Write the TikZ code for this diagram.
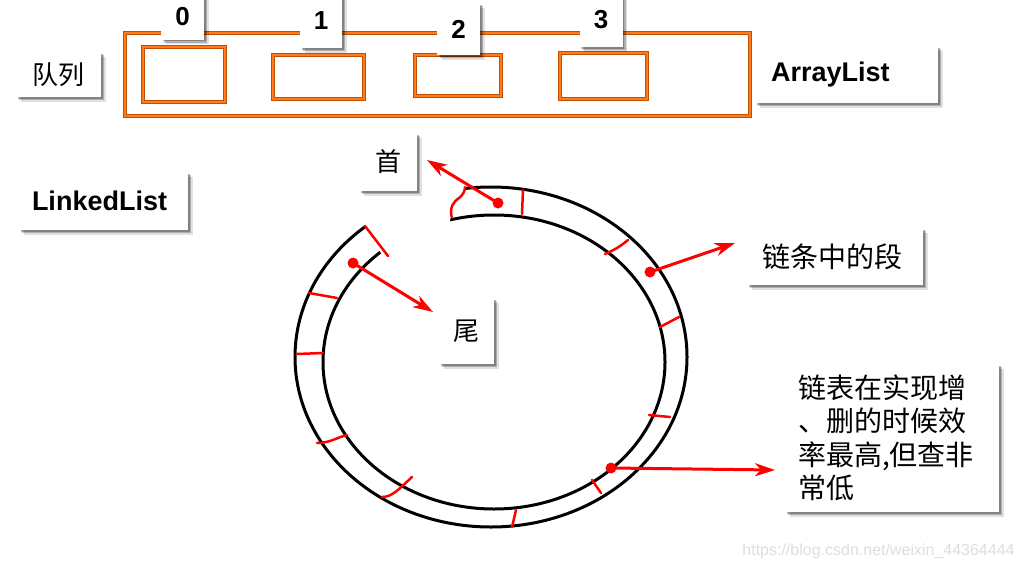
\documentclass[tikz,border=0pt]{standalone}
\usepackage{fontspec}
\setmainfont{Liberation Sans}
\newfontfamily\cjk{Noto Sans CJK SC}
\usetikzlibrary{shadows,arrows.meta}
\definecolor{odark}{HTML}{C24E00}
\definecolor{olight}{HTML}{FF7A1A}
\definecolor{rred}{HTML}{FF0000}
\begin{document}
\begin{tikzpicture}[x=1pt,y=-1pt,
 wbox/.style={draw=none,fill=white,
   drop shadow={shadow xshift=4.5pt,shadow yshift=-4.5pt,fill=black,opacity=0.12},
   drop shadow={shadow xshift=3pt,shadow yshift=-3pt,fill=black,opacity=0.22},
   drop shadow={shadow xshift=1.5pt,shadow yshift=-1.5pt,fill=black,opacity=0.25},
   inner sep=0pt},
 orect/.style={draw=odark,double=olight,double distance=1.4pt,line width=0.9pt},
 ring/.style={line width=3pt,draw=black},
 tick/.style={draw=rred,line width=2.5pt,line cap=round},
 rarrow/.style={draw=rred,line width=3pt,-{Stealth[length=20pt,width=13pt,inset=6pt]}},
 rdot/.style={circle,fill=rred,inner sep=0pt,minimum size=11pt},
 latin/.style={font=\fontsize{27}{32}\selectfont\bfseries},
 digit/.style={font=\fontsize{26}{30}\selectfont\bfseries},
 zh/.style={font=\cjk\fontsize{26}{30}\selectfont},
 zhb/.style={font=\cjk\fontsize{28}{33.5}\selectfont}]
\useasboundingbox (0,0) rectangle (1024,570);
\fill[white] (0,0) rectangle (1024,570);

% ArrayList array
\draw[orect] (125,33) rectangle (750,116);
\draw[orect] (143,47) rectangle (225,102);
\draw[orect] (273,55) rectangle (364,99);
\draw[orect] (415,55) rectangle (501,96);
\draw[orect] (560,53) rectangle (647,99);

\node[wbox,digit,minimum width=43pt,minimum height=46pt] (l0) at (182.5,16.5) {0};
\node[wbox,digit,minimum width=42pt,minimum height=54pt] (l1) at (321,21) {1};
\node[wbox,digit,minimum width=43pt,minimum height=52pt] (l2) at (458.5,29) {2};
\node[wbox,digit,minimum width=43pt,minimum height=54pt] (l3) at (601,20) {3};

\node[wbox,zh,minimum width=85pt,minimum height=45pt] (queue) at (58.5,74.5) {队列};
\node[wbox,latin,text width=151pt,align=left,inner xsep=16pt,minimum height=57pt] (alist) at (846.5,74.5) {ArrayList};
\node[wbox,latin,text width=143pt,align=left,inner xsep=13pt,minimum height=58pt] (llist) at (103.5,201) {LinkedList};

% rings
\draw[ring] (491,357) ellipse [x radius=196,y radius=170];
\draw[ring] (494,362) ellipse [x radius=171,y radius=147];

% gap in the ring
\fill[white] (362,222) -- (380,211) -- (400,201) -- (420,193) -- (440,188) -- (463,182)
  -- (466,186) -- (462,195) -- (455,200) -- (451,206) -- (450,224) -- (420,233)
  -- (400,243) -- (384,258) -- cycle;
\draw[tick] (365,226) -- (388,256);
\draw[tick] (451.7,217) .. controls (449,208) and (454,201) .. (459,198) .. controls (463,195) and (465,191) .. (465,187);

% segment ticks
\draw[tick] (523,190) -- (522,214);
\draw[tick] (605,254) to[bend right=8] (628,240);
\draw[tick] (660,327) -- (679,317);
\draw[tick] (649,415) -- (670,417);
\draw[tick] (592,480) -- (601,493);
\draw[tick] (516,510) -- (512,527);
\draw[tick] (382,497) .. controls (392,497) and (398,490) .. (412,477);
\draw[tick] (317,443) .. controls (330,443) and (338,437) .. (347,435);
\draw[tick] (297,354) -- (323,353);
\draw[tick] (309,293) -- (337,298);

% labels around ring
\node[wbox,zh,minimum width=58pt,minimum height=58pt] (shou) at (388,162) {首};
\node[wbox,zh,minimum width=55pt,minimum height=66pt] (wei) at (466.5,331) {尾};
\node[wbox,zhb,text width=146pt,align=left,inner xsep=15pt,minimum height=57pt] (seg) at (835,256.5) {链条中的段};
\node[wbox,zhb,text width=188pt,align=left,inner xsep=13pt,minimum height=148pt] (note) at (892,438) {链表在实现增\\、删的时候效\\率最高,但查非\\常低};

% arrows
\node[rdot] (hdot) at (498,203) {};
\coordinate (htip) at (427,160);
\draw[rarrow] (hdot.center) -- (htip);
\node[rdot] (tdot) at (353,263) {};
\coordinate (ttip) at (433,312);
\draw[rarrow] (tdot.center) -- (ttip);
\node[rdot] (sdot) at (650,272) {};
\coordinate (stip) at (735,243);
\draw[rarrow] (sdot.center) -- (stip);
\node[rdot] (ndot) at (611,468) {};
\coordinate (ntip) at (775,470);
\draw[rarrow] (ndot.center) -- (ntip);

% watermark
\node[text=black!13,font=\fontsize{16}{18}\selectfont,inner sep=0pt] (wm) at (878.5,551) {https://blog.csdn.net/weixin\_44364444};
\end{tikzpicture}
\end{document}
